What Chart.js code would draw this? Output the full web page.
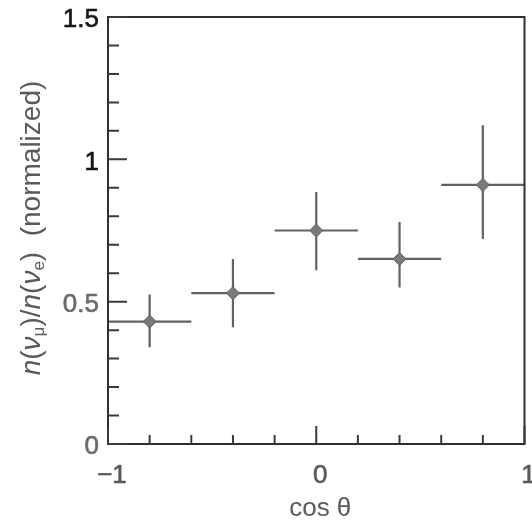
<!DOCTYPE html>
<html>
<head>
<meta charset="utf-8">
<script src="https://cdn.jsdelivr.net/npm/chart.js@4.4.1/dist/chart.umd.min.js"></script>
<style>
  html, body { margin: 0; padding: 0; background: #ffffff; overflow: hidden; }
  #wrap { width: 532px; height: 527px; position: relative; }
</style>
</head>
<body>
<div id="wrap"><canvas id="c" width="532" height="527"></canvas></div>
<script>
// Ratio of muon-like to electron-like neutrino events per zenith-angle bin
const binCenters = [-0.8, -0.4, 0.0, 0.4, 0.8];
const binLow     = [-1.0, -0.6, -0.2, 0.2, 0.6];
const binHigh    = [-0.6, -0.2, 0.2, 0.6, 1.0];
const ratio      = [0.43, 0.53, 0.75, 0.65, 0.91];
const errDown    = [0.09, 0.12, 0.14, 0.10, 0.19];
const errUp      = [0.095, 0.12, 0.135, 0.13, 0.21];

// Axis ticks
const xLabelTicks = [-1, 0, 1];
const xMinorTicks = [-0.8, -0.6, -0.4, -0.2, 0.2, 0.4, 0.6, 0.8];
const yLabelTicks = [0, 0.5, 1, 1.5];
const yMinorTicks = [0.1, 0.2, 0.3, 0.4, 0.6, 0.7, 0.8, 0.9, 1.1, 1.2, 1.3, 1.4];

const xTitle = 'cos θ';

const FONT = '"Liberation Sans", Arial, Helvetica, sans-serif';

const frameAndBars = {
  id: 'frameAndBars',
  beforeDatasetsDraw(chart) {
    const { ctx, scales: { x, y } } = chart;
    ctx.save();
    // error bars: bin width horizontally, uncertainty vertically
    ctx.strokeStyle = '#626262';
    ctx.lineWidth = 2.2;
    binCenters.forEach((c, i) => {
      const py = y.getPixelForValue(ratio[i]);
      const px = x.getPixelForValue(c);
      ctx.beginPath();
      ctx.moveTo(x.getPixelForValue(binLow[i]), py);
      ctx.lineTo(x.getPixelForValue(binHigh[i]), py);
      ctx.moveTo(px, y.getPixelForValue(ratio[i] - errDown[i]));
      ctx.lineTo(px, y.getPixelForValue(ratio[i] + errUp[i]));
      ctx.stroke();
    });
    ctx.restore();
  },
  afterDatasetsDraw(chart) {
    const { ctx, chartArea: a, scales: { x, y } } = chart;
    ctx.save();
    // frame
    ctx.strokeStyle = '#2e2e2e';
    ctx.lineWidth = 2;
    ctx.strokeRect(a.left, a.top, a.right - a.left, a.bottom - a.top);
    // inward ticks
    ctx.strokeStyle = '#3a3a3a';
    ctx.beginPath();
    xMinorTicks.forEach(v => {
      const px = x.getPixelForValue(v);
      ctx.moveTo(px, a.bottom); ctx.lineTo(px, a.bottom - 9);
    });
    xLabelTicks.forEach(v => {
      const px = x.getPixelForValue(v);
      ctx.moveTo(px, a.bottom); ctx.lineTo(px, a.bottom - 18);
    });
    yMinorTicks.forEach(v => {
      const py = y.getPixelForValue(v);
      ctx.moveTo(a.left, py); ctx.lineTo(a.left + 11, py);
    });
    yLabelTicks.forEach(v => {
      const py = y.getPixelForValue(v);
      ctx.moveTo(a.left, py); ctx.lineTo(a.left + 19, py);
    });
    ctx.stroke();

    // tick labels
    ctx.font = '26px ' + FONT;
    ctx.textBaseline = 'middle';
    ctx.textAlign = 'right';
    ctx.lineWidth = 0.6;
    yLabelTicks.forEach(v => {
      const col = v >= 1 ? '#151515' : '#6a6a6a';
      ctx.fillStyle = col;
      ctx.strokeStyle = col;
      const py = y.getPixelForValue(v) + 3;
      ctx.fillText(String(v), a.left - 9, py);
      ctx.strokeText(String(v), a.left - 9, py);
    });
    ctx.textAlign = 'center';
    ctx.fillStyle = '#5a5a5a';
    ctx.strokeStyle = '#5a5a5a';
    xLabelTicks.forEach(v => {
      const s = v < 0 ? '\u2212' + Math.abs(v) : String(v);
      const px = x.getPixelForValue(v) + 4;
      ctx.fillText(s, px, a.bottom + 32);
      ctx.strokeText(s, px, a.bottom + 32);
    });

    // x-axis title
    ctx.fillText(xTitle, (a.left + a.right) / 2 + 4, a.bottom + 65);

    // y-axis title with italic symbols and subscripts
    const parts = [
      { t: 'n', it: true }, { t: '(' }, { t: 'ν', it: true }, { t: 'μ', sub: true },
      { t: ')/' }, { t: 'n', it: true }, { t: '(' }, { t: 'ν', it: true }, { t: 'e', sub: true },
      { t: ')  (normalized)' }
    ];
    const size = 28, subSize = 17;
    const fontOf = p => (p.it ? 'italic ' : '') + (p.sub ? subSize : size) + 'px ' + FONT;
    let total = 0;
    parts.forEach(p => { ctx.font = fontOf(p); p.w = ctx.measureText(p.t).width; total += p.w; });
    ctx.translate(32, 228);
    ctx.rotate(-Math.PI / 2);
    ctx.fillStyle = '#5a5a5a';
    ctx.textAlign = 'left';
    let cx = -total / 2;
    parts.forEach(p => {
      ctx.font = fontOf(p);
      ctx.fillText(p.t, cx, p.sub ? 7 : 0);
      cx += p.w;
    });
    ctx.restore();
  }
};

new Chart(document.getElementById('c'), {
  type: 'scatter',
  data: {
    datasets: [{
      data: binCenters.map((c, i) => ({ x: c, y: ratio[i] })),
      pointStyle: 'rectRot',
      pointRadius: 6.5,
      pointBackgroundColor: '#7a7a7a',
      pointBorderColor: '#5e5e5e',
      pointBorderWidth: 1
    }]
  },
  options: {
    responsive: false,
    animation: false,
    events: [],
    layout: { padding: { top: 17, right: 4, left: 108, bottom: 83 } },
    plugins: { legend: { display: false }, tooltip: { enabled: false } },
    scales: {
      x: { type: 'linear', min: -1, max: 1, display: false },
      y: { type: 'linear', min: 0, max: 1.5, display: false }
    }
  },
  plugins: [frameAndBars]
});
</script>
</body>
</html>
